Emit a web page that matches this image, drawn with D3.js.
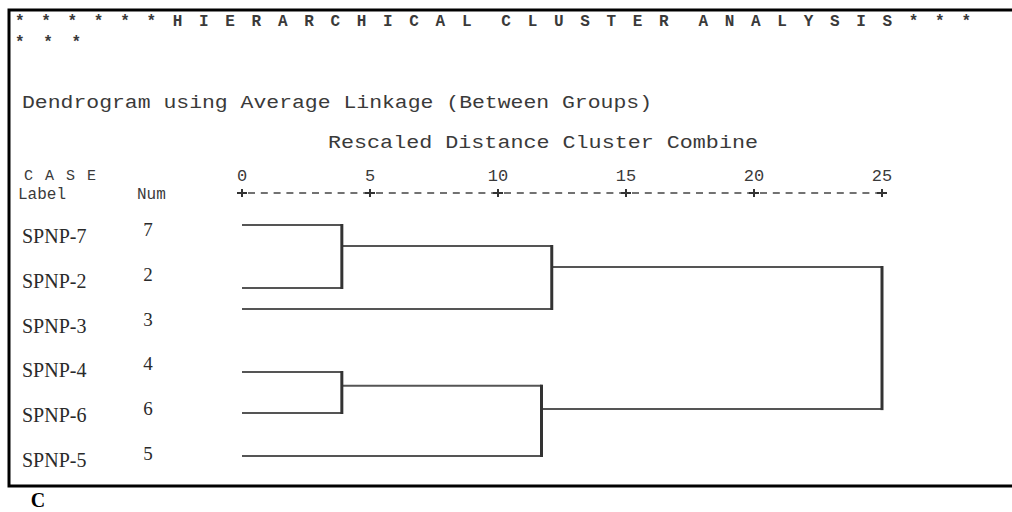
<!DOCTYPE html>
<html>
<head>
<meta charset="utf-8">
<script src="https://cdn.jsdelivr.net/npm/d3@7"></script>
<style>
    body { margin: 0; background: #fff; }
    .mono { font-family: "Liberation Mono", "DejaVu Sans Mono", monospace; fill: #3a3a3a; white-space: pre; }
    .serif { font-family: "Liberation Serif", "DejaVu Serif", serif; fill: #2a2a2a; }
</style>
</head>
<body>
<div id="chart"></div>
<script>
// case labels in dendrogram order (top to bottom)
const leaves = ["SPNP-7", "SPNP-2", "SPNP-3", "SPNP-4", "SPNP-6", "SPNP-5"];
const caseNums = ["7", "2", "3", "4", "6", "5"];

// merge steps: cluster id, the two members, rescaled distance
const mergeIds = ["C1", "C2", "C3", "C4", "C5"];
const mergeA = ["SPNP-7", "SPNP-4", "C1", "C2", "C3"];
const mergeB = ["SPNP-2", "SPNP-6", "SPNP-3", "SPNP-5", "C4"];
const mergeDist = [3.9, 3.9, 12.1, 11.7, 25];

// rescaled distance axis
const tickValues = [0, 5, 10, 15, 20, 25];

const titleLine1 = "* * * * * * H I E R A R C H I C A L  C L U S T E R  A N A L Y S I S * * *";
const titleLine2 = "* * *";
const subTitle = "Dendrogram using Average Linkage (Between Groups)";
const axisTitle = "Rescaled Distance Cluster Combine";
const panelLabel = "C";

class Dendrogram {

    constructor(parentElement) {
        this.parentElement = parentElement;
        this.initVis();
    }

    initVis() {
        let vis = this;

        vis.width = 1012;
        vis.height = 512;

        vis.svg = d3.select(`#${vis.parentElement}`).append("svg")
            .attr("width", vis.width)
            .attr("height", vis.height);

        // frame (top, left, bottom - open on the right)
        vis.svg.append("path")
            .attr("d", "M1012,10 H9 V486 H1012")
            .attr("fill", "none")
            .attr("stroke", "#000")
            .attr("stroke-width", 3);

        // scales
        vis.x = d3.scaleLinear().domain([0, 25]).range([242, 882]);
        // rows of the leaf lines (scanned layout is a bit uneven)
        vis.rowY = d3.scaleOrdinal().domain(leaves).range([225, 288, 309, 372, 413, 456]);
        // rows of the printed labels
        vis.labelY = d3.scalePoint().domain(leaves).range([243, 467]);

        vis.wrangleData();
    }

    wrangleData() {
        let vis = this;

        // node positions: leaves at distance 0, clusters at merge distance.
        // the join is drawn a third of the way down the pair, like the source plot
        vis.nodes = new Map();
        leaves.forEach(l => vis.nodes.set(l, { y: vis.rowY(l), d: 0 }));

        vis.links = [];
        mergeIds.forEach((id, i) => {
            const a = vis.nodes.get(mergeA[i]);
            const b = vis.nodes.get(mergeB[i]);
            vis.links.push({ a: a, b: b, d: mergeDist[i] });
            vis.nodes.set(id, { y: a.y + (b.y - a.y) / 3, d: mergeDist[i] });
        });

        vis.updateVis();
    }

    updateVis() {
        let vis = this;

        // header text
        vis.svg.append("text").attr("class", "mono")
            .attr("xml:space", "preserve")
            .attr("x", 15).attr("y", 26)
            .attr("textLength", 956).attr("lengthAdjust", "spacing")
            .style("font-size", "16px").style("font-weight", "bold")
            .text(titleLine1);

        vis.svg.append("text").attr("class", "mono")
            .attr("x", 15).attr("y", 47)
            .attr("textLength", 66).attr("lengthAdjust", "spacing")
            .style("font-size", "16px").style("font-weight", "bold")
            .text(titleLine2);

        vis.svg.append("text").attr("class", "mono")
            .attr("x", 22).attr("y", 108)
            .attr("textLength", 630).attr("lengthAdjust", "spacingAndGlyphs")
            .style("font-size", "19px")
            .text(subTitle);

        vis.svg.append("text").attr("class", "mono")
            .attr("x", 328).attr("y", 148)
            .attr("textLength", 430).attr("lengthAdjust", "spacingAndGlyphs")
            .style("font-size", "19px")
            .text(axisTitle);

        vis.svg.append("text").attr("class", "mono")
            .attr("x", 24).attr("y", 180)
            .attr("textLength", 72).attr("lengthAdjust", "spacing")
            .style("font-size", "15px")
            .text("C A S E");

        vis.svg.append("text").attr("class", "mono")
            .attr("x", 18).attr("y", 199)
            .style("font-size", "16px")
            .text("Label");

        vis.svg.append("text").attr("class", "mono")
            .attr("x", 137).attr("y", 199)
            .style("font-size", "16px")
            .text("Num");

        // tick numbers
        vis.svg.selectAll(".tick-label")
            .data(tickValues)
            .enter().append("text")
            .attr("class", "mono tick-label")
            .attr("x", d => vis.x(d))
            .attr("y", 181)
            .attr("text-anchor", "middle")
            .style("font-size", "17px")
            .text(d => d);

        // text-style axis: dashes with + at the ticks
        const axisY = 193;
        vis.svg.append("line")
            .attr("x1", vis.x(0) + 6).attr("x2", vis.x(25) - 3)
            .attr("y1", axisY).attr("y2", axisY)
            .attr("stroke", "#444")
            .attr("stroke-width", 1.5)
            .attr("stroke-dasharray", "7,5.8");

        vis.svg.selectAll(".plus")
            .data(tickValues)
            .enter().append("path")
            .attr("class", "plus")
            .attr("d", d => `M${vis.x(d) - 5},${axisY} H${vis.x(d) + 5} M${vis.x(d)},${axisY - 4} V${axisY + 4}`)
            .attr("stroke", "#333")
            .attr("stroke-width", 2);

        // case labels and numbers
        vis.svg.selectAll(".case-label")
            .data(leaves)
            .enter().append("text")
            .attr("class", "serif case-label")
            .attr("x", 22)
            .attr("y", d => vis.labelY(d))
            .style("font-size", "20px")
            .text(d => d);

        vis.svg.selectAll(".case-num")
            .data(leaves)
            .enter().append("text")
            .attr("class", "serif case-num")
            .attr("x", 148)
            .attr("y", d => vis.labelY(d) - 7)
            .attr("text-anchor", "middle")
            .style("font-size", "19px")
            .text((d, i) => caseNums[i]);

        // horizontal branches
        const hLines = [];
        vis.links.forEach(l => {
            hLines.push({ y: l.a.y, from: l.a.d, to: l.d });
            hLines.push({ y: l.b.y, from: l.b.d, to: l.d });
        });

        vis.svg.selectAll(".hbranch")
            .data(hLines)
            .enter().append("line")
            .attr("class", "hbranch")
            .attr("x1", d => vis.x(d.from))
            .attr("x2", d => vis.x(d.to))
            .attr("y1", d => d.y)
            .attr("y2", d => d.y)
            .attr("stroke", "#555")
            .attr("stroke-width", 2);

        // vertical joins
        vis.svg.selectAll(".vbranch")
            .data(vis.links)
            .enter().append("line")
            .attr("class", "vbranch")
            .attr("x1", d => vis.x(d.d))
            .attr("x2", d => vis.x(d.d))
            .attr("y1", d => d.a.y - 1)
            .attr("y2", d => d.b.y + 1)
            .attr("stroke", "#333")
            .attr("stroke-width", 3);

        // panel letter below frame
        vis.svg.append("text").attr("class", "serif")
            .attr("x", 38).attr("y", 507)
            .attr("text-anchor", "middle")
            .style("font-size", "20px")
            .style("font-weight", "bold")
            .style("fill", "#000")
            .text(panelLabel);
    }
}

new Dendrogram("chart");
</script>
</body>
</html>
